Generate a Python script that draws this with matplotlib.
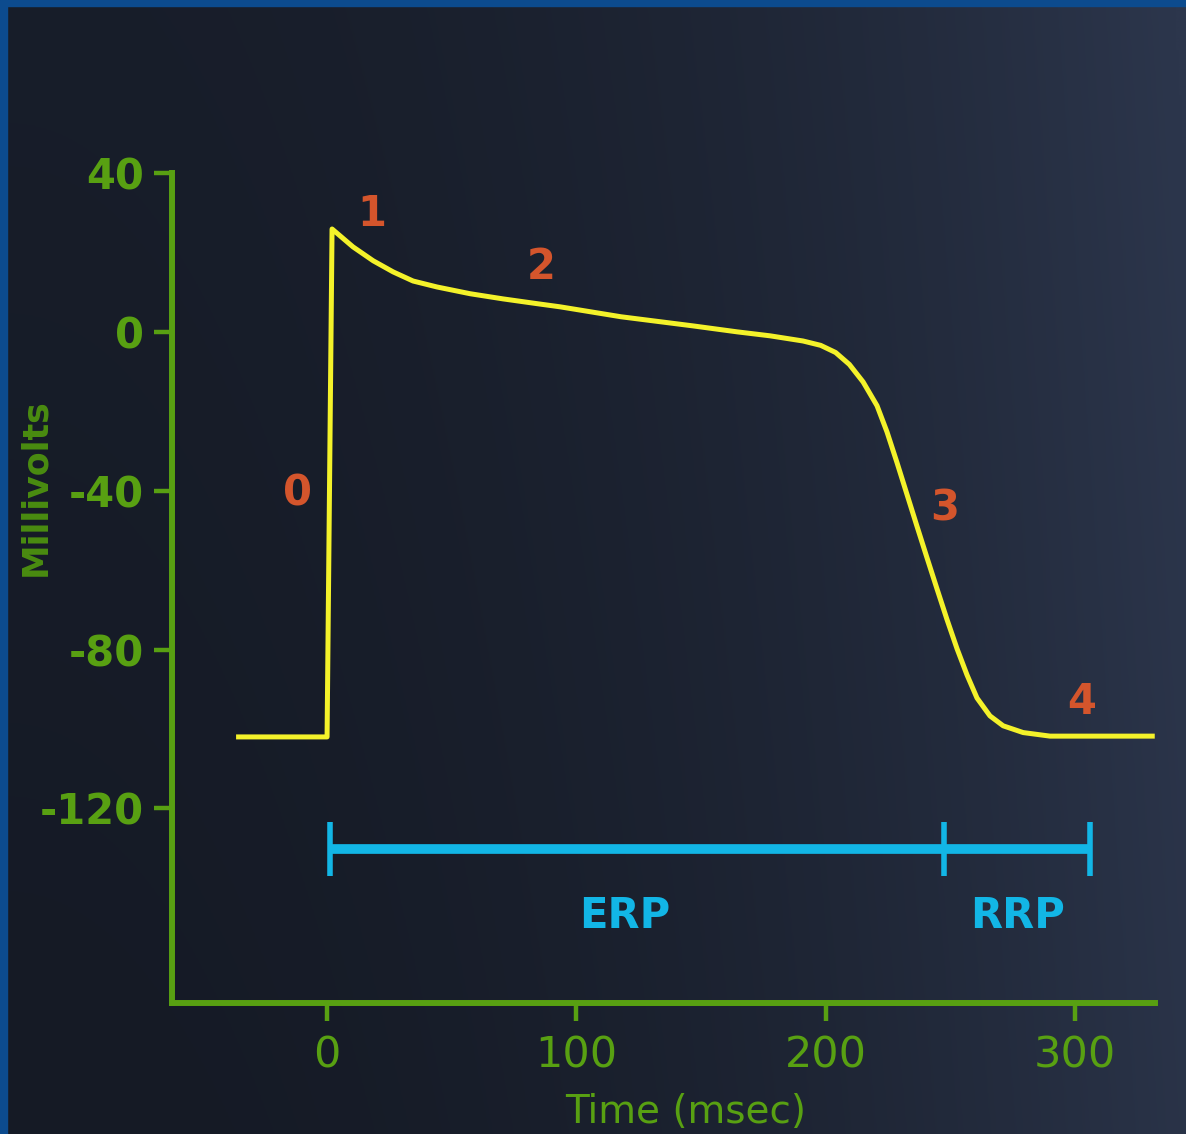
import numpy as np
import matplotlib
matplotlib.use("Agg")
import matplotlib.pyplot as plt
from matplotlib.patches import Rectangle

# action potential trace (ms, mV)
time_ms = [-36.5, 0.0, 2.0, 10.4, 18.5, 26.5, 34.5, 44.1, 57.4, 70.6, 84.2, 93.5,
           117.9, 146.8, 164.5, 177.7, 190.9, 198.0, 204.0, 209.5, 215.0, 220.6, 224.6,
           228.6, 232.7, 236.7, 240.7, 244.7, 248.7, 252.7, 256.7, 260.7, 265.9,
           271.2, 279.2, 290.0, 332.0]
voltage_mv = [-102.0, -102.0, 25.9, 21.4, 17.9, 15.1, 12.8, 11.3, 9.6, 8.3, 7.1, 6.3,
              3.8, 1.5, 0.0, -1.0, -2.3, -3.4, -5.2, -8.2, -12.6, -18.6, -25.2,
              -32.9, -41.1, -49.1, -57.0, -64.8, -72.5, -79.8, -86.4, -92.2, -96.7,
              -99.2, -100.9, -101.8, -101.8]

# phase numbers
phase_labels = ["0", "1", "2", "3", "4"]
phase_t = [-12.0, 18.0, 85.8, 247.9, 302.8]
phase_v = [-40.8, 29.7, 16.4, -44.6, -93.2]

# refractory periods
period_names = ["ERP", "RRP"]
period_start = [1.2, 247.5]
period_end = [247.5, 306.0]
period_level = -130.2
cap_half = 6.8
period_label_t = [119.5, 276.8]
period_label_v = -147.0

x_ticks = [0, 100, 200, 300]
y_ticks = [40, 0, -40, -80, -120]

GREEN = "#58a012"
YELLOW = "#f4f22a"
ORANGE = "#d4552c"
CYAN = "#12b6e6"

fig = plt.figure(figsize=(11.86, 11.34), dpi=100)

# dark gradient backdrop
bg = fig.add_axes([0, 0, 1, 1], zorder=-10)
gx = np.linspace(0, 1, 400)
gy = np.linspace(0, 1, 400)
GX, GY = np.meshgrid(gx, gy)
w = np.clip(GX ** 2.2 * 0.9 + (1 - GY) * 0.12, 0, 1)
left_c = np.array([21, 26, 37]) / 255.0
right_c = np.array([44, 54, 76]) / 255.0
img = left_c[None, None, :] * (1 - w[..., None]) + right_c[None, None, :] * w[..., None]
bg.imshow(img, aspect="auto", extent=[0, 1, 0, 1], origin="upper")
bg.set_axis_off()

# blue frame strips on the left and top edges
fig.patches.append(Rectangle((0, 0), 7 / 1186, 1, transform=fig.transFigure,
                             color="#0c4b8e", zorder=5))
fig.patches.append(Rectangle((0, 1 - 6 / 1134), 1, 6 / 1134, transform=fig.transFigure,
                             color="#0c4b8e", zorder=5))

ax = fig.add_axes([172 / 1186, 131 / 1134, 983 / 1186, 830 / 1134])
ax.set_facecolor("none")
ax.set_xlim(-62.2, 332.1)
ax.set_ylim(-169.0, 40.0)

for side in ["top", "right"]:
    ax.spines[side].set_visible(False)
for side in ["left", "bottom"]:
    ax.spines[side].set_color(GREEN)
    ax.spines[side].set_linewidth(4.3)
    ax.spines[side].set_capstyle("projecting")

ax.set_xticks(x_ticks)
ax.set_yticks(y_ticks)
ax.set_yticklabels([f"{v}" for v in y_ticks])
ax.tick_params(axis="y", colors=GREEN, length=13, width=3.2, pad=7, labelsize=30)
ax.tick_params(axis="x", colors=GREEN, length=13, width=3.2, pad=10, labelsize=31)
for lab in ax.get_yticklabels():
    lab.set_color(GREEN)
    lab.set_fontweight("bold")
for lab in ax.get_xticklabels():
    lab.set_color(GREEN)

ax.set_xlabel("Time (msec)", color=GREEN, fontsize=28, va="center")
ax.xaxis.set_label_coords(0.522, -0.131)
ax.set_ylabel("Millivolts", color="#4a8c10", fontsize=25, fontweight="bold", va="center")
ax.yaxis.set_label_coords(-0.139, 0.622)

# action potential
ax.plot(time_ms, voltage_mv, color=YELLOW, lw=3.6, solid_joinstyle="round",
        solid_capstyle="butt", clip_on=False)

for lab, t, v in zip(phase_labels, phase_t, phase_v):
    ax.text(t, v, lab, color=ORANGE, fontsize=30, fontweight="bold",
            ha="center", va="center")

# ERP / RRP bars
for name, t0, t1, lt in zip(period_names, period_start, period_end, period_label_t):
    ax.plot([t0, t1], [period_level, period_level], color=CYAN, lw=7, solid_capstyle="butt")
    ax.text(lt, period_label_v, name, color=CYAN, fontsize=30, fontweight="bold",
            ha="center", va="center")
cap_ts = sorted(set(period_start + period_end))
ax.vlines(cap_ts, period_level - cap_half, period_level + cap_half, color=CYAN, lw=4)

fig.savefig("out.png", dpi=100)
